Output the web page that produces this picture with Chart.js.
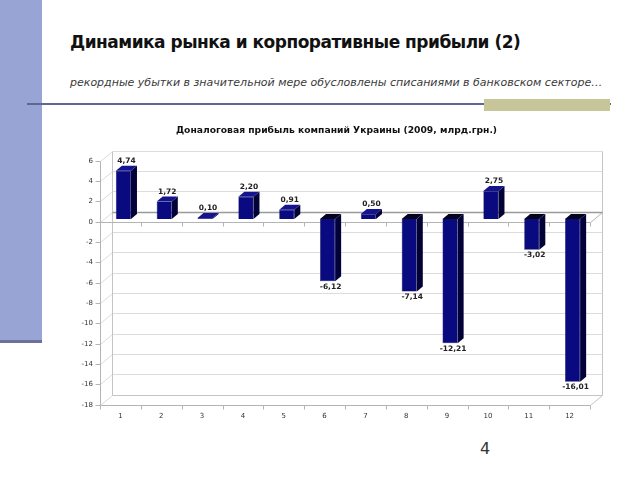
<!DOCTYPE html>
<html lang="ru">
<head>
<meta charset="utf-8">
<script src="https://cdn.jsdelivr.net/npm/chart.js@4/dist/chart.umd.min.js"></script>
<style>
  html, body { margin: 0; padding: 0; background: #ffffff; }
  body { width: 640px; height: 480px; position: relative; overflow: hidden; }
  #sidebar { position: absolute; left: 0; top: 0; width: 42px; height: 340px; background: #98a4d4; border-bottom: 3px solid #6b7199; }
  #rule { position: absolute; left: 27px; top: 103px; width: 584px; height: 2px; background: #5f6895; }
  #accent { position: absolute; left: 484px; top: 99px; width: 126px; height: 12px; background: #c6c69a; }
  #title { position: absolute; left: 70px; top: 32px; font-family: "DejaVu Sans", sans-serif; font-weight: bold; font-size: 17px; letter-spacing: -0.5px; color: #111; white-space: nowrap; }
  #subtitle { position: absolute; left: 70px; top: 76px; font-family: "DejaVu Sans", sans-serif; font-style: italic; font-size: 11px; color: #3a3a3a; white-space: nowrap; }
  #pagenum { position: absolute; left: 480px; top: 439px; font-family: "DejaVu Sans", sans-serif; font-size: 16px; color: #333; }
  #wrap { position: absolute; left: 0; top: 0; width: 640px; height: 480px; }
</style>
</head>
<body>
<div id="sidebar"></div>
<div id="rule"></div>
<div id="accent"></div>
<div id="title">Динамика рынка и корпоративные прибыли (2)</div>
<div id="subtitle">рекордные убытки в значительной мере обусловлены списаниями в банковском секторе…</div>
<div id="pagenum">4</div>
<div id="wrap"><canvas id="c" width="640" height="480"></canvas></div>
<script>
// ---- data ----
const chartTitle = 'Доналоговая прибыль компаний Украины (2009, млрд.грн.)';
const categories = ['1', '2', '3', '4', '5', '6', '7', '8', '9', '10', '11', '12'];
const profits = [4.74, 1.72, 0.10, 2.20, 0.91, -6.12, 0.50, -7.14, -12.21, 2.75, -3.02, -16.01];
const yMin = -18;
const yMax = 6;
const yStep = 2;

// ---- 3D look helpers ----
const FRONT = { dx: -3, dy: 2.5 };
const BACK = { dx: 9, dy: -7.5 };
const BAR_DEPTH = { dx: 6, dy: -5 };

function crisp(v) { return Math.round(v) + 0.5; }
function seg(ctx, x1, y1, x2, y2) {
  ctx.beginPath();
  ctx.moveTo(crisp(x1), crisp(y1));
  ctx.lineTo(crisp(x2), crisp(y2));
  ctx.stroke();
}

const boxPlugin = {
  id: 'box3d',
  beforeDatasetsDraw(chart) {
    const { ctx, chartArea: a, scales } = chart;
    const xs = scales.x, ys = scales.y;
    const tickPx = ys.ticks.map(t => ys.getPixelForValue(t.value));
    const centers = categories.map((c, i) => xs.getPixelForValue(i));
    const bounds = [a.left];
    for (let i = 1; i < centers.length; i++) bounds.push((centers[i - 1] + centers[i]) / 2);
    bounds.push(a.right);
    const zero = ys.getPixelForValue(0);

    ctx.save();
    ctx.lineWidth = 1;
    // back wall grid lines and left-wall diagonals
    ctx.strokeStyle = '#dcdcdc';
    tickPx.forEach(py => {
      seg(ctx, a.left + BACK.dx, py + BACK.dy, a.right + BACK.dx, py + BACK.dy);
      seg(ctx, a.left + FRONT.dx, py + FRONT.dy, a.left + BACK.dx, py + BACK.dy);
    });
    // wall outlines
    ctx.strokeStyle = '#c4c4c4';
    seg(ctx, a.left + BACK.dx, a.top + BACK.dy, a.left + BACK.dx, a.bottom + BACK.dy);
    seg(ctx, a.right + BACK.dx, a.top + BACK.dy, a.right + BACK.dx, a.bottom + BACK.dy);
    seg(ctx, a.left + BACK.dx, a.bottom + BACK.dy, a.right + BACK.dx, a.bottom + BACK.dy);
    seg(ctx, a.right + FRONT.dx, a.bottom + FRONT.dy, a.right + BACK.dx, a.bottom + BACK.dy);
    // front value axis with tick marks
    ctx.strokeStyle = '#b4b4b4';
    seg(ctx, a.left + FRONT.dx, a.top + FRONT.dy, a.left + FRONT.dx, a.bottom + FRONT.dy);
    tickPx.forEach(py => seg(ctx, a.left + FRONT.dx - 5, py + FRONT.dy, a.left + FRONT.dx, py + FRONT.dy));
    // front floor line (bottom) with category tick marks
    seg(ctx, a.left + FRONT.dx, a.bottom + FRONT.dy, a.right + FRONT.dx, a.bottom + FRONT.dy);
    bounds.forEach(bx => seg(ctx, bx + FRONT.dx, a.bottom + FRONT.dy, bx + FRONT.dx, a.bottom + FRONT.dy + 4));
    // zero plane: back edge darker, front edge with ticks
    ctx.strokeStyle = '#9a9a9a';
    ctx.lineWidth = 1.5;
    seg(ctx, a.left + BACK.dx, zero + BACK.dy, a.right + BACK.dx, zero + BACK.dy);
    ctx.lineWidth = 1;
    ctx.strokeStyle = '#b4b4b4';
    seg(ctx, a.left + FRONT.dx, zero + FRONT.dy, a.right + FRONT.dx, zero + FRONT.dy);
    seg(ctx, a.right + FRONT.dx, zero + FRONT.dy, a.right + BACK.dx, zero + BACK.dy);
    bounds.forEach(bx => seg(ctx, bx + FRONT.dx, zero + FRONT.dy, bx + FRONT.dx, zero + FRONT.dy + 4));
    ctx.restore();
  },
  afterDatasetsDraw(chart) {
    const { ctx } = chart;
    const meta = chart.getDatasetMeta(0);
    ctx.save();
    meta.data.forEach((bar, i) => {
      const p = bar.getProps(['x', 'y', 'base', 'width'], true);
      const top = Math.min(p.y, p.base);
      const bottom = Math.max(p.y, p.base);
      const l = p.x - p.width / 2, r = p.x + p.width / 2;
      const v = profits[i];
      // side face
      ctx.fillStyle = '#020238';
      ctx.beginPath();
      ctx.moveTo(r, top);
      ctx.lineTo(r + BAR_DEPTH.dx, top + BAR_DEPTH.dy);
      ctx.lineTo(r + BAR_DEPTH.dx, bottom + BAR_DEPTH.dy);
      ctx.lineTo(r, bottom);
      ctx.closePath();
      ctx.fill();
      // top face
      ctx.fillStyle = v >= 0 ? '#14148e' : '#03031e';
      ctx.beginPath();
      ctx.moveTo(l, top);
      ctx.lineTo(l + BAR_DEPTH.dx, top + BAR_DEPTH.dy);
      ctx.lineTo(r + BAR_DEPTH.dx, top + BAR_DEPTH.dy);
      ctx.lineTo(r, top);
      ctx.closePath();
      ctx.fill();
      // value label
      ctx.fillStyle = '#222222';
      ctx.font = 'bold 7.5px "DejaVu Sans", sans-serif';
      ctx.textAlign = 'center';
      const label = v.toFixed(2).replace('.', ',');
      if (v >= 0) {
        ctx.textBaseline = 'bottom';
        ctx.fillText(label, p.x + 3, top + BAR_DEPTH.dy - 1);
      } else {
        ctx.textBaseline = 'top';
        ctx.fillText(label, p.x + 3, bottom + 2);
      }
    });
    ctx.restore();
  }
};

new Chart(document.getElementById('c'), {
  type: 'bar',
  data: {
    labels: categories,
    datasets: [{
      data: profits,
      backgroundColor: '#0a0a80',
      borderColor: '#00004a',
      borderWidth: 0.5,
      barPercentage: 1,
      categoryPercentage: 0.37
    }]
  },
  options: {
    responsive: false,
    animation: false,
    events: [],
    layout: { padding: { left: 80, right: 47, top: 0, bottom: 50 } },
    plugins: {
      legend: { display: false },
      tooltip: { enabled: false },
      title: {
        display: true,
        text: chartTitle,
        color: '#111111',
        font: { family: '"DejaVu Sans", sans-serif', size: 9.2, weight: 'bold', lineHeight: '14px' },
        padding: { top: 124, bottom: 20 }
      }
    },
    scales: {
      x: {
        grid: { display: false, drawTicks: false },
        border: { display: false },
        ticks: { color: '#333333', font: { family: '"DejaVu Sans", sans-serif', size: 7 }, padding: 10, labelOffset: -3, maxRotation: 0 },
        afterFit(s) { s.height = 28; }
      },
      y: {
        min: yMin,
        max: yMax,
        grid: { display: false, drawTicks: false },
        border: { display: false },
        ticks: { stepSize: yStep, color: '#333333', font: { family: '"DejaVu Sans", sans-serif', size: 7 }, padding: 10, labelOffset: 3 },
        afterFit(s) { s.width = 23; }
      }
    }
  },
  plugins: [boxPlugin]
});
</script>
</body>
</html>
